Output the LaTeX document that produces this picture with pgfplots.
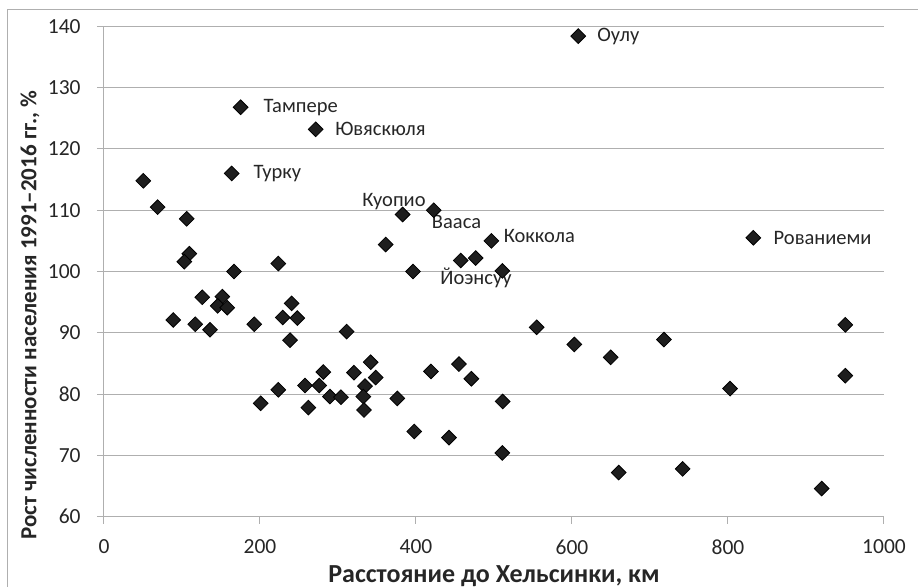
\documentclass[border=0pt]{standalone}
\usepackage{fontspec}
\setmainfont{Carlito}
\usepackage{pgfplots}
\pgfplotsset{compat=1.18}
\definecolor{gridgray}{RGB}{175,175,175}
\definecolor{markblack}{RGB}{30,30,30}
\definecolor{txt}{RGB}{38,38,38}
\newcommand{\chartfont}{\fontsize{10.25pt}{12pt}\selectfont}
\begin{document}
\chartfont
\begin{tikzpicture}
\useasboundingbox (-52pt,-34.65pt) rectangle (407pt,258.35pt);
\draw[gridgray, line width=0.5pt] (-48pt,-40pt) -- (-48pt,253.6pt) -- (420pt,253.6pt);
\begin{axis}[
  at={(0,0)}, anchor=south west,
  scale only axis, width=390pt, height=245.2pt,
  xmin=0, xmax=1000, ymin=60, ymax=140,
  xtick={0,200,...,1000}, ytick={60,70,...,140},
  axis x line*=bottom, axis y line*=left,
  ymajorgrids, grid style={gridgray, line width=0.5pt},
  axis line style={gridgray, line width=0.5pt},
  tick style={gridgray, line width=0.5pt},
  tick align=outside, major tick length=3.5pt,
  /pgf/number format/assume math mode=true,
  /pgf/number format/1000 sep={},
  ticklabel style={font=\fontsize{10.75pt}{12pt}\selectfont, text=txt, inner sep=0pt},
  yticklabel style={anchor=east, xshift=-8pt},
  xticklabel style={anchor=north, yshift=-7.7pt},
  xlabel={\textbf{Расстояние до Хельсинки, км}},
  ylabel={\textbf{Рост численности населения 1991–2016 гг., \%}},
  xlabel style={font=\fontsize{13pt}{15pt}\selectfont, text=txt, at={(axis description cs:0.5,0)}, anchor=center, yshift=-29.65pt},
  ylabel style={font=\fontsize{11.5pt}{14pt}\selectfont, text=txt, at={(axis description cs:0,0.411)}, anchor=center, yshift=37pt},
  clip=false,
]
\addplot[only marks, mark=square*, mark size=2.6pt,
  mark options={rotate=45, fill=markblack, draw=none}]
  coordinates {
  (608,138.4) (175.2,126.8) (271.4,123.2) (163.7,116.0)
  (382.9,109.3) (422.7,110.0) (496.6,105.0) (510.7,100.1) (832.5,105.5)
  (50.4,114.8) (68.8,110.5) (106,108.6) (109.4,102.9) (103,101.6)
  (166.7,100.0) (223.5,101.3) (126,95.8) (151.7,95.9) (145.8,94.4)
  (158,94.1) (88.8,92.1) (117,91.4) (136,90.5) (192.7,91.4)
  (240.6,94.8) (229.1,92.5) (247.8,92.4) (238.5,88.8) (200.9,78.5)
  (223.5,80.7) (311.1,90.2) (262,77.8) (257.7,81.4) (276,81.4)
  (281.2,83.6) (289.7,79.6) (303.8,79.5) (320.5,83.5) (341.9,85.2)
  (348.3,82.7) (334.6,81.3) (332.5,79.6) (333.3,77.4) (376,79.3)
  (419.2,83.7) (455.1,84.9) (471,82.5) (397.8,73.9) (442.3,72.9)
  (554.7,90.9) (603,88.1) (649.6,86.0) (511.1,78.8) (510.7,70.4)
  (659.9,67.2) (717.9,88.9) (802.6,80.9) (950.4,91.3) (950.4,83.0)
  (741.9,67.8) (920.1,64.6) (361.1,104.4) (396.2,100.0) (457.3,101.8)
  (476.5,102.2)
  };
\begin{scope}[every node/.style={font=\chartfont, text=txt, inner sep=0pt}]
\node[anchor=west] at (axis cs:632,138.4) {Оулу};
\node[anchor=west] at (axis cs:204.2,126.8) {Тампере};
\node[anchor=west] at (axis cs:296.2,123.2) {Ювяскюля};
\node[anchor=west] at (axis cs:191.4,116.0) {Турку};
\node[anchor=east] at (axis cs:412.8,111.4) {Куопио};
\node[anchor=west] at (axis cs:420,108.1) {Вааса};
\node[anchor=west] at (axis cs:512,105.8) {Коккола};
\node[anchor=west] at (axis cs:430.8,98.9) {Йоэнсуу};
\node[anchor=west] at (axis cs:858,105.5) {Рованиеми};
\end{scope}
\end{axis}
\end{tikzpicture}
\end{document}
